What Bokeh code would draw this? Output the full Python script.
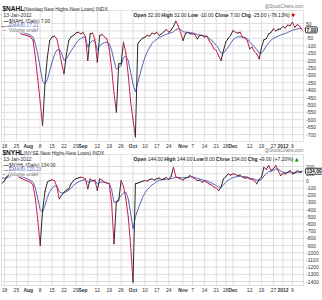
import pandas as pd
from bokeh.plotting import figure
from bokeh.models import ColumnDataSource, Label, Range1d, BoxAnnotation
from bokeh.core.properties import value
from bokeh.embed import file_html
from bokeh.resources import INLINE

# ---------------- data ----------------
HOLIDAYS = ["2011-09-05", "2011-11-24", "2011-12-26", "2012-01-02"]
dates = pd.bdate_range("2011-07-15", "2012-01-13", freq="C", holidays=HOLIDAYS)

nahl = [30, 20, 35, 25, 15, 10, 5, -5, -20, -25,
        -30, -35, -42, -65, -180, -330, -480, -638, -357, -180,
        -65, -42, -35, -54, -130, -220, -290, -160, -65, -40,
        -30, -15, -9, -20, -10, -40, -200, -20, -15, -60,
        -211, -31, -25, -40, -54, -120, -250, -420, -549, -222,
        -222, -76, -150, -300, -480, -600, -717, -87, -65, -50,
        -42, -30, -35, -15, -20, -10, -31, -20, -5, 10,
        -9, 5, 30, 66, 35, -10, -65, -20, -10, -20,
        -20, -25, -54, -31, -31, -42, -35, -65, -90, -121,
        -132, -170, -200, -132, -76, -50, -31, 3, -9, -15,
        -9, -42, -50, -65, -121, -110, -140, -155, -189, -110,
        -60, -53, -20, -10, 14, 0, 10, 14, 30, 20,
        40, 35, 59, 25, 43, 32, 7]
nahl_ema = [30, 28, 30, 29, 24, 20, 15, 8, -5, -12,
            -18, -24, -30, -42, -90, -160, -250, -340, -357, -330,
            -270, -210, -160, -130, -125, -150, -200, -190, -160, -135,
            -110, -85, -65, -52, -42, -45, -110, -80, -65, -70,
            -130, -100, -87, -80, -76, -85, -130, -200, -260, -245,
            -235, -180, -170, -200, -280, -360, -413, -350, -290, -230,
            -180, -140, -110, -85, -68, -55, -45, -38, -30, -22,
            -18, -12, -6, 8, 14, 10, -5, -9, -10, -12,
            -14, -17, -25, -28, -30, -33, -40, -50, -62, -80,
            -98, -120, -150, -150, -130, -110, -85, -60, -48, -40,
            -40, -42, -45, -52, -75, -90, -108, -125, -150, -150,
            -130, -100, -80, -62, -50, -42, -35, -28, -22, -18,
            -10, -3, 5, 9, 13, 16, 17.21]
nyhl = [-30, 0, 60, 90, 110, 100, 80, 55, 40, 20,
        5, -5, -18, -64, -250, -550, -898, -412, -150, -18,
        5, 15, 5, -80, -250, -200, -157, -130, -111, -40,
        5, 30, 40, 51, 45, 28, -111, 28, 5, 10,
        -134, 28, 10, -18, -30, -41, -300, -875, -296, -273,
        5, -80, -250, -500, -900, -1407, -41, -30, -18, -5,
        5, 0, 20, 28, 10, 30, 40, 20, 28, 50,
        20, 60, 190, 60, 40, 28, 10, 40, 51, 75,
        51, 30, 5, 10, -18, 0, -20, -41, -60, -87,
        -100, -134, -87, 28, 60, 98, 80, 98, 90, 75,
        80, 51, 40, 45, 28, 20, 5, -41, 20, 51,
        190, 160, 214, 144, 170, 214, 144, 75, 100, 98,
        120, 144, 98, 110, 144, 125, 134]
nyhl_ema = [40, 38, 45, 55, 70, 80, 80, 72, 62, 50,
            35, 22, 8, -20, -100, -250, -400, -435, -340, -230,
            -150, -100, -70, -75, -150, -170, -165, -150, -134, -100,
            -65, -35, -15, 0, 10, 15, -20, -5, -3, 0,
            -41, -20, -15, -20, -30, -35, -120, -296, -296, -250,
            -200, -170, -157, -250, -450, -666, -500, -400, -319, -230,
            -170, -120, -87, -55, -35, -10, 10, 15, 18, 25,
            25, 30, 40, 48, 47, 45, 42, 45, 48, 55,
            55, 48, 35, 28, 15, 10, 0, -15, -30, -50,
            -65, -87, -90, -55, -20, 10, 30, 45, 55, 60,
            65, 62, 58, 55, 40, 32, 25, 10, 8, 20,
            70, 95, 130, 135, 145, 165, 165, 140, 120, 115,
            118, 125, 115, 113, 122, 118, 120.23]

tick_dates = ["2011-07-18", "2011-07-25", "2011-08-01", "2011-08-08", "2011-08-15",
              "2011-08-22", "2011-08-29", "2011-09-01", "2011-09-12", "2011-09-19",
              "2011-09-26", "2011-10-03", "2011-10-10", "2011-10-17", "2011-10-24",
              "2011-11-01", "2011-11-07", "2011-11-14", "2011-11-21", "2011-11-28",
              "2011-12-01", "2011-12-12", "2011-12-19", "2011-12-27", "2012-01-03",
              "2012-01-09"]
tick_labels = ["18", "25", "Aug", "8", "15", "22", "29", "Sep", "12", "19", "26", "Oct",
               "10", "17", "24", "Nov", "7", "14", "21", "28", "Dec", "12", "19", "27",
               "2012", "9"]
bold_labels = {"Aug", "Sep", "Oct", "Nov", "Dec", "2012"}

nahl_ticks = list(range(-700, 51, 50))
nyhl_ticks = list(range(-1400, 201, 100))

# ---------------- layout constants (page pixels) ----------------
FONT = "Liberation Sans"
W, H = 322, 300
PX0, PX_PER_DAY = 1.62, 2.38          # page x of day index 0, px per trading day
AREA_L, AREA_R = 1, 303               # plot area left/right (page px)
RED, BLACK, BLUE = "#cc1f4f", "#2a2a2a", "#5565b5"
GRID = "#dedede"

idx = list(range(len(dates)))
date_pos = {d.strftime("%Y-%m-%d"): i for i, d in enumerate(dates)}
tick_idx = [date_pos[d] for d in tick_dates]

W_REG = {c: 0.556 for c in "0123456789"}
W_REG.update({'.': .278, '-': .333, ' ': .278, '(': .333, ')': .333, '%': .889, '+': .584,
              'O': .778, 'p': .556, 'e': .556, 'n': .556, 'H': .722, 'i': .222, 'g': .556,
              'h': .556, 'L': .556, 'o': .556, 'w': .722, 'C': .722, 'l': .222, 's': .5, 'c': .5})
W_BOLD = dict(W_REG)
W_BOLD.update({'p': .611, 'n': .611, 'g': .611, 'h': .611, 'o': .611, 'i': .278, 'l': .278,
               'L': .611, 'w': .778, 's': .556, 'c': .556})


def tw(s, size, bold=False):
    tab = W_BOLD if bold else W_REG
    return sum(tab.get(ch, 0.56) for ch in s) * size


def X(px):
    return (px - PX0) / PX_PER_DAY


# panel value scales: page y of value 0 and px per unit
P1 = dict(zero_y=30.4, k=0.148)
P2 = dict(zero_y=180.4, k=0.0719)


def vmap(s):
    return lambda py: (s["zero_y"] - py) / s["k"]


V1, V2 = vmap(P1), vmap(P2)

p = figure(width=W, height=H, output_backend="svg", toolbar_location=None,
           x_range=Range1d(X(0), X(W)), y_range=Range1d(V1(H), V1(0)),
           x_axis_location=None, y_axis_location=None, min_border=0,
           background_fill_color="white")
p.extra_y_ranges = {"p2": Range1d(V2(H), V2(0))}
p.outline_line_color = None
p.grid.visible = False


def panel(rn, V, ticker, desc, daily, ema, area_top, area_bot, yticks, ohlc, legend,
          last_txt, last_val, tri, tri_color):
    v_top, v_bot = V(area_top), V(area_bot)
    x_l, x_r = X(AREA_L), X(AREA_R)

    # grid lines
    p.segment(x0=tick_idx, y0=[v_bot] * len(tick_idx), x1=tick_idx, y1=[v_top] * len(tick_idx),
              line_color=GRID, line_width=1, y_range_name=rn)
    p.segment(x0=[x_l] * len(yticks), y0=yticks, x1=[x_r] * len(yticks), y1=yticks,
              line_color=GRID, line_width=1, y_range_name=rn)

    # EMA line then colour-by-direction daily line
    p.line(idx, ema, line_color=BLUE, line_width=1, y_range_name=rn)
    src = ColumnDataSource(dict(
        x0=idx[:-1], x1=idx[1:], y0=daily[:-1], y1=daily[1:],
        c=[BLACK if b >= a else RED for a, b in zip(daily[:-1], daily[1:])]))
    p.segment("x0", "y0", "x1", "y1", source=src, line_color="c", line_width=1,
              line_cap="round", y_range_name=rn)

    # plot area border
    p.add_layout(BoxAnnotation(left=x_l, right=x_r, top=v_top, bottom=v_bot,
                               fill_alpha=0, line_color="#9a9a9a", line_width=1,
                               y_range_name=rn))

    # date axis labels
    reg = [(t, l) for t, l in zip(tick_idx, tick_labels) if l not in bold_labels]
    bld = [(t, l) for t, l in zip(tick_idx, tick_labels) if l in bold_labels]
    for items, style in ((reg, "normal"), (bld, "bold")):
        p.text(x=[t for t, _ in items], y=[V(area_bot + 4.2)] * len(items),
               text=[l for _, l in items], text_font=value(FONT),
               text_font_size=value("5px"), text_font_style=value(style),
               text_color="#333333", text_align="center", text_baseline="middle",
               y_range_name=rn)
    # value axis labels
    p.text(x=[X(AREA_R + 2.5)] * len(yticks), y=yticks, text=[str(t) for t in yticks],
           text_font=value(FONT), text_font_size=value("5px"), text_color="#333333",
           text_align="left", text_baseline="middle", y_range_name=rn)

    def lab(px, py, text, size=5, bold=False, color="#222222", align="left",
            baseline="middle", bg=None, font=FONT, **kw):
        l = Label(x=X(px), y=V(py), text=text, text_font=font,
                  text_font_size=f"{size}px", text_font_style="bold" if bold else "normal",
                  text_color=color, text_align=align, text_baseline=baseline,
                  y_range_name=rn, **kw)
        if bg:
            l.background_fill_color = bg
        p.add_layout(l)

    t = area_top
    # title row
    lab(2, t - 2, ticker, size=6.5, bold=True, color="#111111", baseline="alphabetic")
    lab(2 + tw(ticker, 6.5, True) + 1.5, t - 2, desc, size=5, baseline="alphabetic",
        color="#333333")
    lab(303, t - 4, "@StockCharts.com", size=4.5, color="#777777", align="right")
    # date + OHLC row
    lab(3, t + 4, "13-Jan-2012", color="#333333")
    x = 133.0
    for txt, b in ohlc:
        lab(x, t + 4, txt, bold=b, color="#222222")
        x += tw(txt, 5, b) + 1.4
    lab(x, t + 4, tri, size=5, color=tri_color, font="DejaVu Sans")
    # legend
    for n, (txt, col, mark) in enumerate(legend):
        off = [10.5, 15, 19.5][n]
        lab(3, t + off, mark, size=5, color=col, bg="white", bold=True)
        lab(8.5, t + off, txt, size=4.8, color=col, bg="white")
    # last value box on the value axis
    p.add_layout(Label(x=X(AREA_R + 2), y=last_val, text=last_txt, text_font=FONT,
                       text_font_size="5px", text_font_style="bold", text_color="#111111",
                       text_align="left", text_baseline="middle",
                       background_fill_color="white", border_line_color="#333333",
                       padding=1, border_radius=1, y_range_name=rn))


panel("default", V1, "$NAHL", "(Nasdaq New Highs-New Lows) INDX", nahl, nahl_ema,
      10, 141, nahl_ticks,
      [("Open", True), ("32.00", False), ("High", True), ("32.00", False),
       ("Low", True), ("-10.00", False), ("Close", True), ("7.00", False),
       ("Chg", True), ("-25.00 (-78.13%)", False)],
      [("$NAHL (Daily) 7.00", "#222222", "\u2014"),
       ("EMA(5) 17.21", BLUE, "\u2014"),
       ("Volume undef", "#666666", "\u25aa")],
      "7.00", 7, "\u25bc", "#cc0000")

panel("p2", V2, "$NYHL", "(NYSE New Highs-New Lows) INDX", nyhl, nyhl_ema,
      154, 285, nyhl_ticks,
      [("Open", True), ("144.00", False), ("High", True), ("144.00", False),
       ("Low", True), ("8.00", False), ("Close", True), ("134.00", False),
       ("Chg", True), ("+9.00 (+7.20%)", False)],
      [("$NYHL (Daily) 134.00", "#222222", "\u2014"),
       ("EMA(5) 120.23", BLUE, "\u2014"),
       ("Volume undef", "#666666", "\u25aa")],
      "134.00", 134, "\u25b2", "#009900")

open("out.html", "w").write(file_html(p, INLINE))
